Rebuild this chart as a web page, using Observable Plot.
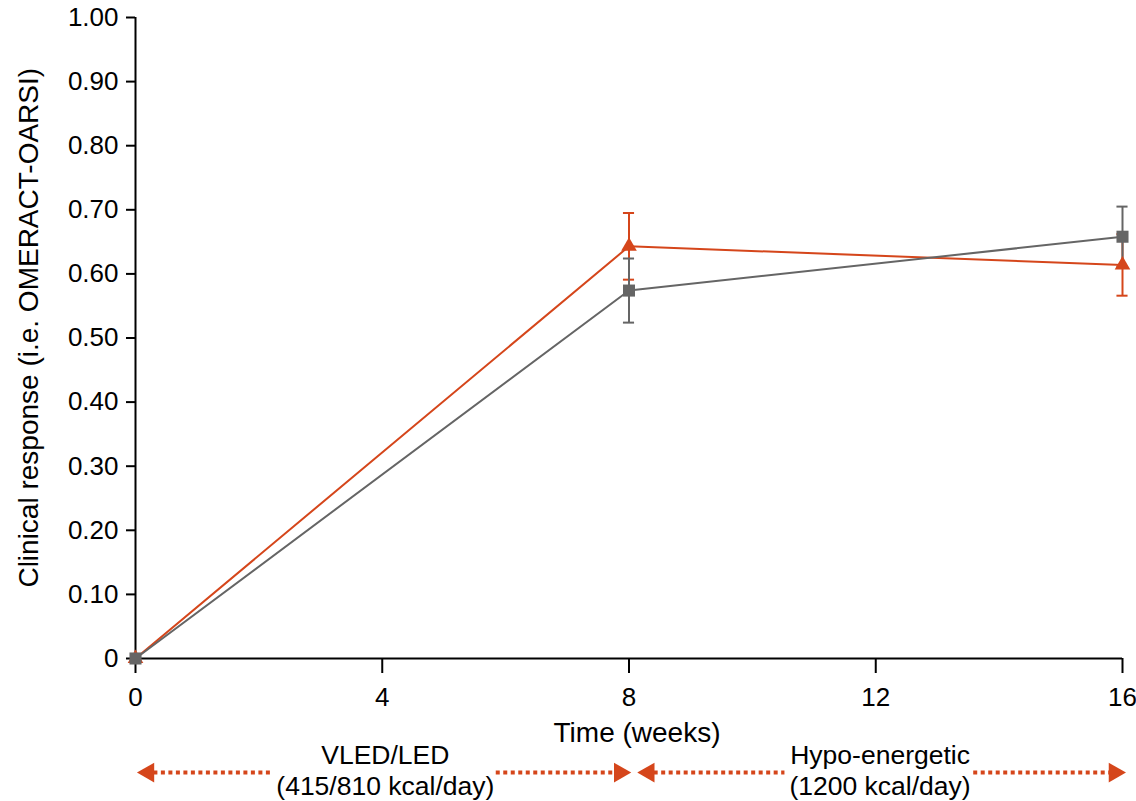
<!DOCTYPE html>
<html><head><meta charset="utf-8">
<script src="https://cdn.jsdelivr.net/npm/d3@7"></script>
<script src="https://cdn.jsdelivr.net/npm/@observablehq/plot@0.6"></script>
<style>body{margin:0;background:#fff}</style>
</head><body><div id="chart"></div>
<script>
const weeks = [0, 8, 16];
const orangeMean = [0, 0.643, 0.614];
const orangeErr = [0, 0.052, 0.048];
const grayMean = [0, 0.574, 0.658];
const grayErr = [0, 0.050, 0.047];
const xTicks = [0, 4, 8, 12, 16];
const yTicks = [0, 0.1, 0.2, 0.3, 0.4, 0.5, 0.6, 0.7, 0.8, 0.9, 1.0];
const phaseLabels = ["VLED/LED", "(415/810 kcal/day)", "Hypo-energetic", "(1200 kcal/day)"];
const phaseLabelX = [4.05, 4.05, 12.07, 12.07];
const phaseLabelY = [-0.151, -0.199, -0.151, -0.199];
const dottedSegs = [[0.29, 2.22], [5.84, 7.76], [8.40, 10.52], [13.58, 15.8]];
const heads = [[0.21, -90], [7.85, 90], [8.32, -90], [15.87, 90]];
const arrowY = -0.178;

const ORANGE = "#d5461b";
const GRAY = "#656565";

const orange = weeks.map((w, i) => ({x: w, y: orangeMean[i], lo: orangeMean[i] - orangeErr[i], hi: orangeMean[i] + orangeErr[i]}));
const gray = weeks.map((w, i) => ({x: w, y: grayMean[i], lo: grayMean[i] - grayErr[i], hi: grayMean[i] + grayErr[i]}));
const orangeE = orange.filter(d => d.x > 0);
const grayE = gray.filter(d => d.x > 0);
const cap = 0.09;

const chart = Plot.plot({
  width: 1136, height: 801,
  marginLeft: 135, marginRight: 14, marginTop: 17, marginBottom: 143,
  style: {fontFamily: "'Liberation Sans', Arial, sans-serif", background: "#fff", color: "#000"},
  x: {domain: [0, 16]},
  y: {domain: [0, 1]},
  marks: [
    Plot.axisY({ticks: yTicks, tickSize: 9, tickPadding: 8, fontSize: 26, strokeWidth: 2, tickFormat: d => d === 0 ? "0" : d3.format(".2f")(d), label: null}),
    Plot.axisX({ticks: xTicks, tickSize: 15, tickPadding: 14, fontSize: 26, strokeWidth: 2, label: null}),
    Plot.ruleX([0], {stroke: "#000", strokeWidth: 2}),
    Plot.ruleY([0], {stroke: "#000", strokeWidth: 2}),
    // error bars
    Plot.ruleX(orangeE, {x: "x", y1: "lo", y2: "hi", stroke: ORANGE, strokeWidth: 2}),
    Plot.ruleY(orangeE, {y: "hi", x1: d => d.x - cap, x2: d => d.x + cap, stroke: ORANGE, strokeWidth: 2}),
    Plot.ruleY(orangeE, {y: "lo", x1: d => d.x - cap, x2: d => d.x + cap, stroke: ORANGE, strokeWidth: 2}),
    Plot.ruleX(grayE, {x: "x", y1: "lo", y2: "hi", stroke: GRAY, strokeWidth: 2}),
    Plot.ruleY(grayE, {y: "hi", x1: d => d.x - cap, x2: d => d.x + cap, stroke: GRAY, strokeWidth: 2}),
    Plot.ruleY(grayE, {y: "lo", x1: d => d.x - cap, x2: d => d.x + cap, stroke: GRAY, strokeWidth: 2}),
    // lines
    Plot.line(orange, {x: "x", y: "y", stroke: ORANGE, strokeWidth: 2}),
    Plot.line(gray, {x: "x", y: "y", stroke: GRAY, strokeWidth: 2}),
    Plot.dot(orange, {x: "x", y: "y", symbol: "triangle", r: 5.8, fill: ORANGE, stroke: null}),
    Plot.dot(gray, {x: "x", y: "y", symbol: "square", r: 6.8, fill: GRAY, stroke: null}),
    // labels
    Plot.text(["Time (weeks)"], {x: 8.13, y: -0.117, text: d => d, fontSize: 28, fill: "#000"}),
    Plot.text(["Clinical response (i.e. OMERACT-OARSI)"], {x: -1.72, y: 0.516, text: d => d, rotate: -90, fontSize: 28, fill: "#000"}),
    Plot.text(phaseLabels, {x: (d, i) => phaseLabelX[i], y: (d, i) => phaseLabelY[i], text: d => d, fontSize: 26.5, fill: "#000"}),
    // phase arrows
    Plot.link(dottedSegs, {x1: d => d[0], x2: d => d[1], y1: arrowY, y2: arrowY, stroke: ORANGE, strokeWidth: 4, strokeDasharray: "4,3.5"}),
    Plot.dot(heads, {x: d => d[0], y: arrowY, rotate: d => d[1], symbol: "triangle", r: 7.4, fill: ORANGE, stroke: null})
  ]
});
document.getElementById("chart").appendChild(chart);
</script>
</body></html>
